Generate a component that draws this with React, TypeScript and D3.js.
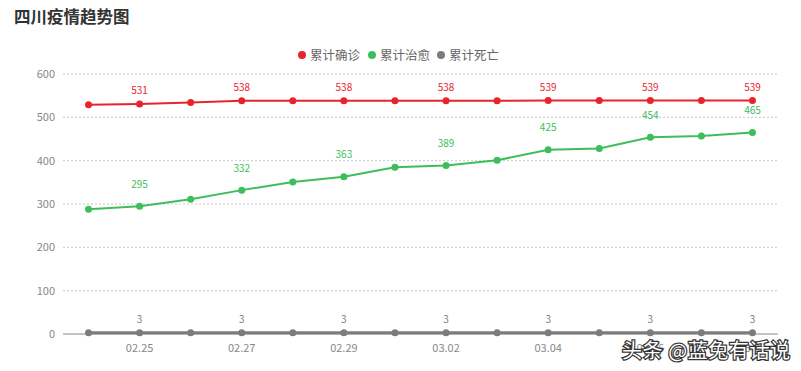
import React from 'react';
import * as d3 from 'd3';

const dates = ['02.24', '02.25', '02.26', '02.27', '02.28', '02.29', '03.01', '03.02', '03.03', '03.04', '03.05', '03.06', '03.07', '03.08'];
const confirmed = [529, 531, 534, 538, 538, 538, 538, 538, 538, 539, 539, 539, 539, 539];
const cured = [288, 295, 311, 332, 351, 363, 385, 389, 401, 425, 428, 454, 457, 465];
const deaths = [3, 3, 3, 3, 3, 3, 3, 3, 3, 3, 3, 3, 3, 3];
const yTicks = [0, 100, 200, 300, 400, 500, 600];

const seriesList = [
  { name: '累计确诊', color: '#e8242b', values: confirmed, width: 2, labelGap: 9.5 },
  { name: '累计治愈', color: '#3dbe5b', values: cured, width: 2, labelGap: 18.5 },
  { name: '累计死亡', color: '#7c7c7c', values: deaths, width: 3, labelGap: 9.5 },
];

const font = '"Noto Sans CJK SC", "Open Sans", sans-serif';

const App = () => {
  const width = 801;
  const height = 371;
  const left = 63;
  const right = 778;
  const top = 74;
  const bottom = 334;

  const x = d3.scaleBand<string>().domain(dates).range([left, right]);
  const cx = (d: string) => (x(d) as number) + x.bandwidth() / 2;
  const y = d3.scaleLinear().domain([0, 600]).range([bottom, top]);

  const line = (vals: number[]) =>
    d3.line<number>()
      .x((_, i) => cx(dates[i]))
      .y((v) => y(v))(vals) as string;

  const legendX = [302, 372, 441];

  return (
    <svg width={width} height={height} style={{ position: 'absolute', left: 0, top: 0, fontFamily: font }}>
      <rect width={width} height={height} fill="#fff" />
      <text x={14} y={23} fontSize={16.5} fontWeight="bold" fill="#333">四川疫情趋势图</text>

      {seriesList.map((s, i) => (
        <g key={s.name}>
          <circle cx={legendX[i]} cy={55} r={4} fill={s.color} />
          <text x={legendX[i] + 8} y={59.5} fontSize={12.5} fill="#666">{s.name}</text>
        </g>
      ))}

      {yTicks.map((t) => (
        <g key={t}>
          {t > 0 && (
            <line x1={left} x2={right} y1={y(t)} y2={y(t)} stroke="#c8c8c8" strokeDasharray="2,2" />
          )}
          <text x={55} y={y(t) + 4} textAnchor="end" fontSize={11} fill="#888">{t}</text>
        </g>
      ))}
      <line x1={left} x2={right} y1={bottom} y2={bottom} stroke="#888" />

      {dates.map((d, i) => i % 2 === 1 && (
        <text key={d} x={cx(d)} y={352} textAnchor="middle" fontSize={11} fill="#888">{d}</text>
      ))}

      {seriesList.map((s) => (
        <g key={s.name}>
          <path d={line(s.values)} fill="none" stroke={s.color} strokeWidth={s.width} />
          {s.values.map((v, i) => (
            <circle key={i} cx={cx(dates[i])} cy={y(v)} r={3.5} fill={s.color} />
          ))}
          {s.values.map((v, i) => i % 2 === 1 && (
            <text key={'l' + i} x={cx(dates[i])} y={y(v) - s.labelGap} textAnchor="middle" fontSize={10} fill={s.color}>{v}</text>
          ))}
        </g>
      ))}

      <text x={622} y={358} fontSize={20} fill="#fff" stroke="#333" strokeWidth={2.5} paintOrder="stroke" textLength={168}>头条 @蓝兔有话说</text>
    </svg>
  );
};

export default App;
